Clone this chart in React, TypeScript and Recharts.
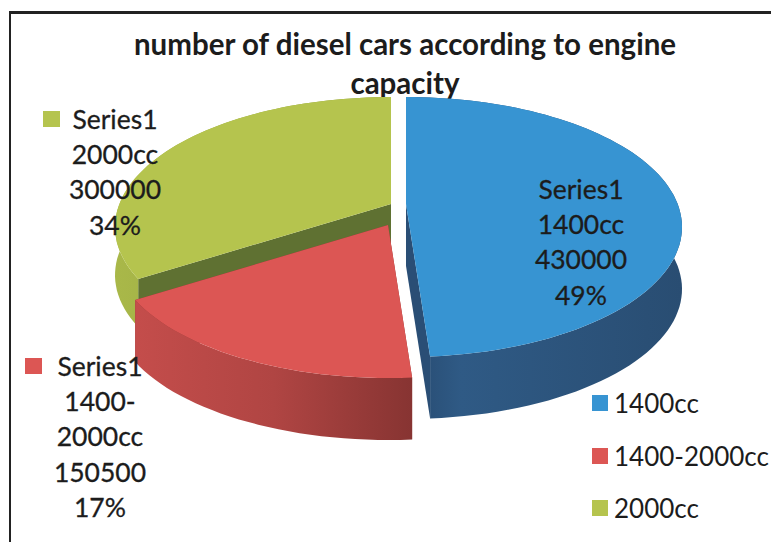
import { PieChart, Pie, Legend } from "recharts"

// drawn in this order so the red wall covers the green one, blue last
const categories = ["2000cc", "1400-2000cc", "1400cc"]
const carCounts = [300000, 150500, 430000]
const sliceColors = ["#B5C44E", "#DC5654", "#3794D2"]
const legendOrder = ["1400cc", "1400-2000cc", "2000cc"]
const seriesName = "Series1"
const categoryLines = [["2000cc"], ["1400-", "2000cc"], ["1400cc"]]
const titleLines = ["number of diesel cars according to engine", "capacity"]

const cutColors = ["#5F7132", "#8A3533", "#2A4E75"]
const wallGradients = ["wallGreen", "wallRed", "wallBlue"]
const sliceDepth = [48, 62, 62]
const sliceShift = [
  { x: 0, y: 0 },
  { x: -3, y: 21 },
  { x: 15, y: 0 },
]
const labelBoxes = [
  { x: 115, y: 120, key: 72 },
  { x: 100, y: 367, key: 75 },
  { x: 581, y: 190, key: 0 },
]

const WIDTH = 771
const HEIGHT = 542
const RX_RATIO = 276 / 130
const TILT = -0.177
const LABEL_FONT = "Lato, 'Open Sans', sans-serif"
const INK = "#1c1c1c"

// angle is the recharts one (degrees, 90 = top), tilted so the centre sits above the ellipse middle
const project = (cx: number, cy: number, r: number, angle: number) => {
  const rad = (angle * Math.PI) / 180
  const u = Math.cos(rad)
  const v = -Math.sin(rad)
  const d = 1 + TILT * v
  return {
    x: cx + (r * RX_RATIO * u * Math.sqrt(1 - TILT * TILT)) / d,
    y: cy + (r * (v + TILT)) / d,
  }
}

const arcPoints = (cx: number, cy: number, r: number, from: number, to: number) => {
  const steps = Math.max(2, Math.ceil(Math.abs(to - from) / 2))
  const pts = []
  for (let i = 0; i <= steps; i++) pts.push(project(cx, cy, r, from + ((to - from) * i) / steps))
  return pts
}

const toPath = (pts: { x: number; y: number }[]) =>
  pts.map((p, i) => `${i === 0 ? "M" : "L"}${p.x.toFixed(1)},${p.y.toFixed(1)}`).join(" ") + " Z"

const Slice3D = (props: any) => {
  const { cx, cy, outerRadius, startAngle, endAngle, fill, index } = props
  const shift = sliceShift[index]
  const x0 = cx + shift.x
  const y0 = cy + shift.y
  const apex = { x: x0, y: y0 + outerRadius * TILT }
  const arc = arcPoints(x0, y0, outerRadius, startAngle, endAngle)
  const down = (p: { x: number; y: number }) => ({ x: p.x, y: p.y + sliceDepth[index] })
  const first = arc[0]
  const last = arc[arc.length - 1]
  return (
    <g>
      <path d={toPath([apex, first, down(first), down(apex)])} fill={cutColors[index]} />
      <path d={toPath([apex, last, down(last), down(apex)])} fill={cutColors[index]} />
      <path d={toPath([...arc, ...arc.map(down).reverse()])} fill={`url(#${wallGradients[index]})`} />
      <path d={toPath([apex, ...arc])} fill={fill} />
    </g>
  )
}

const SliceLabel = (props: any) => {
  const { index, value, percent, fill } = props
  const box = labelBoxes[index]
  const lines = [seriesName, ...categoryLines[index], String(value), `${Math.round(percent * 100)}%`]
  return (
    <g>
      {box.key > 0 && <rect x={box.x - box.key} y={box.y - 9} width={17} height={16} fill={fill} />}
      {lines.map((line, i) => (
        <text
          key={i}
          x={box.x}
          y={box.y + i * 35.2 + 9}
          textAnchor="middle"
          fontFamily={LABEL_FONT}
          fontSize={26.5}
          fill={INK}
          stroke={INK}
          strokeWidth={0.3}
        >
          {line}
        </text>
      ))}
    </g>
  )
}

const LegendBox = () => (
  <div style={{ fontFamily: LABEL_FONT, fontSize: 26, color: INK, whiteSpace: "nowrap" }}>
    {legendOrder.map((name) => (
      <div key={name} style={{ display: "flex", alignItems: "center", height: 52.5 }}>
        <span
          style={{
            width: 16,
            height: 16,
            marginRight: 6,
            background: sliceColors[categories.indexOf(name)],
          }}
        />
        {name}
      </div>
    ))}
  </div>
)

const data = categories.map((name, i) => ({ name, value: carCounts[i], fill: sliceColors[i] }))

export default function App() {
  return (
    <div
      style={{
        position: "absolute",
        left: 0,
        top: 0,
        width: WIDTH,
        height: HEIGHT,
        background: "#fff",
        overflow: "hidden",
      }}
    >
      <div
        style={{
          position: "absolute",
          left: 9,
          top: 11,
          right: 0,
          bottom: 0,
          borderTop: "3px solid #222",
          borderLeft: "2px solid #222",
        }}
      />
      <PieChart width={WIDTH} height={HEIGHT} margin={{ top: 0, right: 0, bottom: 0, left: 0 }}>
        <defs>
          <linearGradient id="wallGreen" x1="0" y1="0" x2="1" y2="0">
            <stop offset="0" stopColor="#A9B849" />
            <stop offset="1" stopColor="#8C9A3C" />
          </linearGradient>
          <linearGradient id="wallRed" x1="0" y1="0" x2="1" y2="0">
            <stop offset="0" stopColor="#C44D4B" />
            <stop offset="0.5" stopColor="#B04543" />
            <stop offset="1" stopColor="#873432" />
          </linearGradient>
          <linearGradient id="wallBlue" x1="0" y1="0" x2="1" y2="0">
            <stop offset="0" stopColor="#274A70" />
            <stop offset="0.2" stopColor="#2F5A85" />
            <stop offset="1" stopColor="#294D72" />
          </linearGradient>
        </defs>
        <Pie
          data={data}
          dataKey="value"
          nameKey="name"
          cx={391}
          cy={227}
          outerRadius={130}
          startAngle={90}
          endAngle={450}
          stroke="none"
          shape={Slice3D}
          label={SliceLabel}
          labelLine={false}
          isAnimationActive={false}
        />
        <Legend
          layout="vertical"
          content={LegendBox}
          wrapperStyle={{ left: 592, top: 377, width: 179 }}
        />
        {titleLines.map((line, i) => (
          <text
            key={line}
            x={405}
            y={55 + i * 39}
            textAnchor="middle"
            fontFamily={LABEL_FONT}
            fontWeight={700}
            fontSize={29.5}
            fill={INK}
          >
            {line}
          </text>
        ))}
      </PieChart>
    </div>
  )
}
